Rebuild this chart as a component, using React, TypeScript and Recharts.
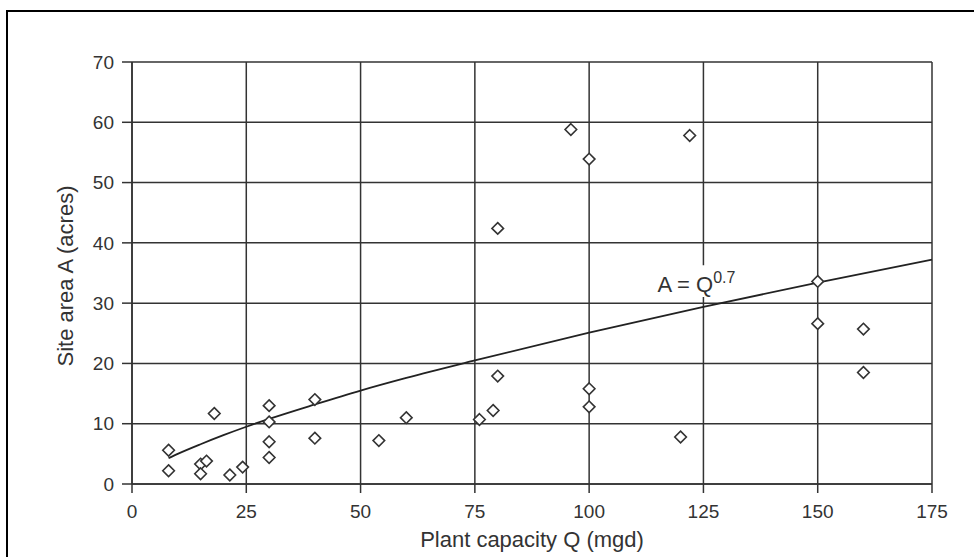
import React from "react";
import {
  ComposedChart, Scatter, Line, XAxis, YAxis, CartesianGrid, ReferenceArea,
} from "recharts";

// measured plant capacity (mgd) vs site area (acres)
const capacity = [8, 8, 15, 16.3, 15, 18, 21.4, 24.2, 30, 30, 30, 30, 40, 40, 54, 60, 76, 79, 80, 80, 96, 100, 100, 100, 120, 122, 150, 150, 160, 160];
const siteArea = [5.6, 2.2, 3.3, 3.8, 1.7, 11.7, 1.5, 2.8, 13.0, 10.3, 7.0, 4.4, 14.0, 7.6, 7.2, 11.0, 10.7, 12.2, 17.9, 42.4, 58.8, 53.9, 15.8, 12.8, 7.8, 57.8, 33.6, 26.6, 25.7, 18.5];

// A = Q^0.7 curve
const curveQ = [8, 10, 15, 20, 25, 30, 40, 50, 60, 75, 100, 125, 150, 175];
const curveA = [4.3, 5.0, 6.6, 8.1, 9.5, 10.8, 13.2, 15.5, 17.6, 20.5, 25.1, 29.4, 33.4, 37.2];

const xTicks = [0, 25, 50, 75, 100, 125, 150, 175];
const yTicks = [0, 10, 20, 30, 40, 50, 60, 70];

const points = capacity.map((q, i) => ({ q, a: siteArea[i] }));
const curve = curveQ.map((q, i) => ({ q, a: curveA[i] }));

const FONT = "'Liberation Sans', Arial, Helvetica, sans-serif";
const INK = "#333";

const Diamond = (props: any) => {
  const { cx, cy } = props;
  const r = 5.8;
  return (
    <path
      d={`M${cx},${cy - r} L${cx + r},${cy} L${cx},${cy + r} L${cx - r},${cy} Z`}
      fill="#fff"
      stroke={INK}
      strokeWidth={1.6}
    />
  );
};

const EqLabel = (props: any) => {
  const { viewBox } = props;
  const x = viewBox.x + 3;
  const y = viewBox.y + 27;
  return (
    <text x={x} y={y} fontFamily={FONT} fontSize={22} fill={INK}>
      A = Q
      <tspan fontSize={16} dy={-9}>0.7</tspan>
    </text>
  );
};

const YTitle = (props: any) => {
  const { viewBox } = props;
  const cx = viewBox.x + 65;
  const cy = viewBox.y + viewBox.height / 2 + 3;
  return (
    <text
      x={cx}
      y={cy}
      transform={`rotate(-90, ${cx}, ${cy})`}
      textAnchor="middle"
      dominantBaseline="central"
      fontFamily={FONT}
      fontSize={22}
      fill={INK}
    >
      Site area A (acres)
    </text>
  );
};

const XTitle = (props: any) => {
  const { viewBox } = props;
  return (
    <text
      x={viewBox.x + viewBox.width / 2}
      y={viewBox.y + 63}
      textAnchor="middle"
      fontFamily={FONT}
      fontSize={22}
      fill={INK}
    >
      Plant capacity Q (mgd)
    </text>
  );
};

export default function App() {
  return (
    <div style={{ position: "absolute", left: 0, top: 0, width: 974, height: 557, overflow: "hidden", background: "#fff" }}>
      <div
        style={{
          position: "absolute", left: 6, top: 10, width: 1000, height: 700,
          borderTop: "2px solid #000", borderLeft: "2px solid #000",
        }}
      />
      <div style={{ position: "absolute", left: 0, top: 0 }}>
        <ComposedChart width={974} height={557} margin={{ top: 62, right: 42, bottom: 0, left: 0 }}>
          <CartesianGrid stroke={INK} strokeWidth={1.5} />
          <XAxis
            type="number"
            dataKey="q"
            domain={[0, 175]}
            ticks={xTicks}
            height={73}
            tickSize={9}
            tickMargin={12}
            stroke={INK}
            strokeWidth={1.5}
            tick={{ fontSize: 19, fontFamily: FONT, fill: INK }}
            label={<XTitle />}
          />
          <YAxis
            type="number"
            dataKey="a"
            domain={[0, 70]}
            ticks={yTicks}
            width={132}
            tickSize={10}
            tickMargin={8}
            stroke={INK}
            strokeWidth={1.5}
            tick={{ fontSize: 19, fontFamily: FONT, fill: INK }}
            label={<YTitle />}
          />
          <ReferenceArea x1={114.3} x2={133.3} y1={31.0} y2={36.3} fill="#fff" fillOpacity={1} stroke="none" label={<EqLabel />} />
          <Line
            data={curve}
            dataKey="a"
            type="monotone"
            stroke="#222"
            strokeWidth={1.8}
            dot={false}
            activeDot={false}
            isAnimationActive={false}
          />
          <Scatter data={points} dataKey="a" shape={<Diamond />} isAnimationActive={false} />
        </ComposedChart>
      </div>
    </div>
  );
}
